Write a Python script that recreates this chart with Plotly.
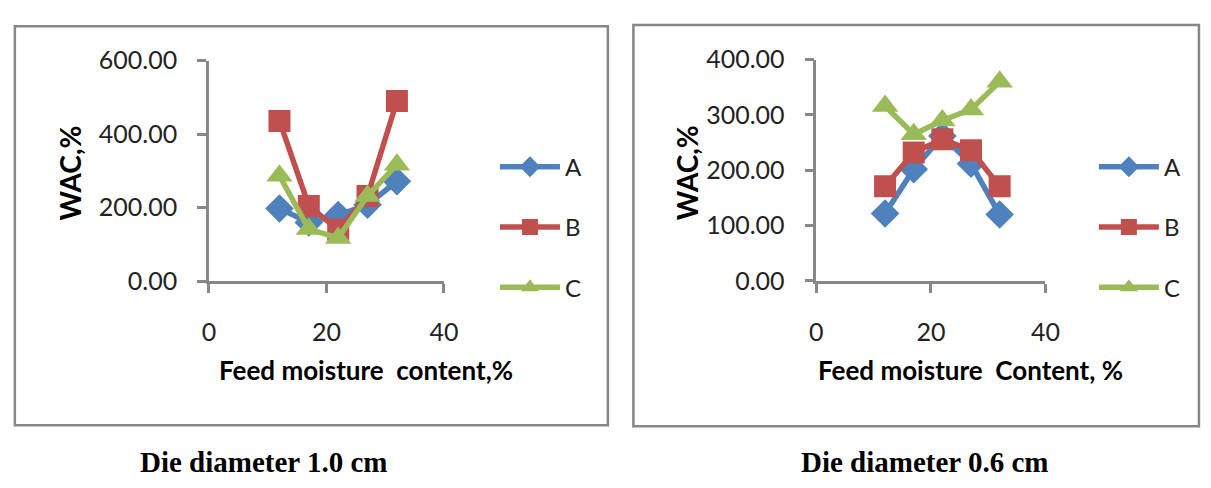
import plotly.graph_objects as go

# Feed moisture content levels (%)
moisture = [12, 17, 22, 27, 32]

# WAC (%) for die diameter 1.0 cm
wac_10_a = [198, 160, 180, 208, 272]
wac_10_b = [436, 205, 140, 232, 490]
wac_10_c = [287, 142, 118, 232, 317]

# WAC (%) for die diameter 0.6 cm
wac_06_a = [122, 202, 262, 212, 120]
wac_06_b = [171, 232, 256, 236, 171]
wac_06_c = [316, 265, 290, 310, 360]

series_names = ["A", "B", "C"]
colors = ["#4F81BD", "#C0504D", "#9BBB59"]
symbols = ["diamond", "square", "triangle-up"]
marker_sizes = [22, 22, 23]

captions = ["Die diameter 1.0 cm", "Die diameter 0.6 cm"]
x_titles = ["Feed moisture  content,%", "Feed moisture  Content, %"]
y_title = "WAC,%"

W, H = 1211, 488

fig = go.Figure()

panels = [
    dict(data=[wac_10_a, wac_10_b, wac_10_c], xa="x", ya="y", legend="legend"),
    dict(data=[wac_06_a, wac_06_b, wac_06_c], xa="x2", ya="y2", legend="legend2"),
]

for p in panels:
    for name, vals, col, sym, ms in zip(series_names, p["data"], colors, symbols, marker_sizes):
        fig.add_trace(go.Scatter(
            x=moisture, y=vals, name=name, mode="lines+markers",
            line=dict(color=col, width=5.5),
            marker=dict(symbol=sym, size=ms, color=col),
            xaxis=p["xa"], yaxis=p["ya"], legend=p["legend"],
            legendgroup=p["legend"] + name,
        ))

def px_x(v):
    return v / W

def px_y(v):
    return 1 - v / H

tick_font = dict(family="Lato", size=25, color="#222222")
axis_common = dict(
    showline=True, linecolor="#878787", linewidth=2.5,
    ticks="outside", ticklen=9, tickwidth=2.5, tickcolor="#878787",
    showgrid=False, zeroline=False, tickfont=tick_font,
)
x_common = dict(range=[0, 40], dtick=20, ticklabelstandoff=18, **axis_common)
y_common = dict(tickformat=".2f", ticklabelstandoff=15, **axis_common)

legend_common = dict(
    xanchor="left", yanchor="middle",
    font=dict(family="Lato", size=24, color="#222222"),
    itemwidth=60, tracegroupgap=26, traceorder="grouped",
    bgcolor="rgba(0,0,0,0)",
)

fig.update_layout(
    width=W, height=H,
    margin=dict(l=0, r=0, t=0, b=0),
    paper_bgcolor="white", plot_bgcolor="white",
    xaxis=dict(domain=[px_x(205.7), px_x(445)], anchor="y", **x_common),
    yaxis=dict(domain=[px_y(282.7), px_y(47.5)], range=[0, 600], dtick=200,
               anchor="x", **y_common),
    xaxis2=dict(domain=[px_x(824.3), px_x(1057.7)], anchor="y2", **x_common),
    yaxis2=dict(domain=[px_y(282.3), px_y(46.5)], range=[0, 400], dtick=100,
                anchor="x2", **y_common),
    legend=dict(x=px_x(497), y=px_y(225), **legend_common),
    legend2=dict(x=px_x(1107), y=px_y(225), **legend_common),
    showlegend=True,
)

# Chart frames
fig.add_shape(type="rect", xref="paper", yref="paper",
              x0=px_x(8), x1=px_x(612), y0=px_y(436), y1=px_y(11),
              line=dict(color="#878787", width=2.5))
fig.add_shape(type="rect", xref="paper", yref="paper",
              x0=px_x(638), x1=px_x(1214), y0=px_y(437), y1=px_y(9.5),
              line=dict(color="#878787", width=2.5))

title_font = dict(family="Lato", size=26, color="black", weight="bold")

# Axis titles
for xc, txt in [(366, x_titles[0]), (981, x_titles[1])]:
    fig.add_annotation(x=px_x(xc), y=px_y(377), xref="paper", yref="paper",
                       text=txt, showarrow=False, font=title_font,
                       xanchor="center", yanchor="middle")
for xc in [64, 692]:
    fig.add_annotation(x=px_x(xc), y=px_y(167), xref="paper", yref="paper",
                       text=y_title, showarrow=False,
                       font=dict(family="Lato", size=28, color="black", weight="bold"),
                       textangle=-90, xanchor="center", yanchor="middle")

# Captions under each chart
for xc, txt in [(262, captions[0]), (935, captions[1])]:
    fig.add_annotation(x=px_x(xc), y=px_y(475), xref="paper", yref="paper",
                       text=txt, showarrow=False,
                       font=dict(family="Liberation Serif", size=29,
                                 color="black", weight="bold"),
                       xanchor="center", yanchor="middle")

fig.write_html("out.html")
